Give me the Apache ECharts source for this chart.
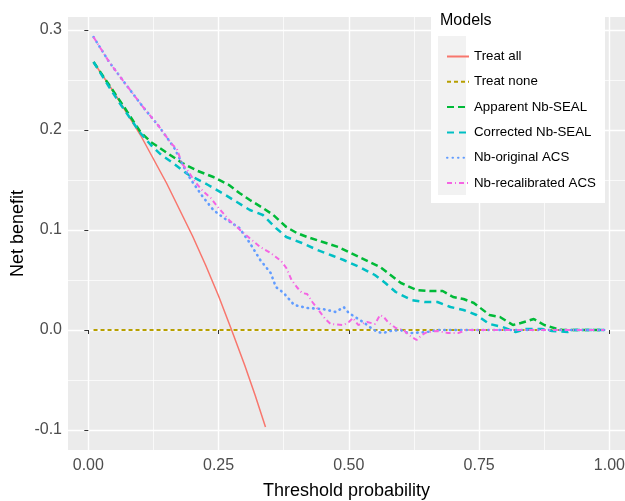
<!DOCTYPE html>
<html>
<head>
<meta charset="utf-8">
<script src="https://cdn.jsdelivr.net/npm/echarts@6/dist/echarts.min.js"></script>
<style>
  html, body { margin: 0; padding: 0; background: #fff; }
  #chart { width: 625px; height: 501px; }
</style>
</head>
<body>
<div id="chart"></div>
<script>
// tick positions
var xTicks = [0, 0.25, 0.5, 0.75, 1];
var xMinor = [0.125, 0.375, 0.625, 0.875];
var yTicks = [-0.1, 0, 0.1, 0.2, 0.3];
var yMinor = [-0.05, 0.05, 0.15, 0.25];

var modelNames = ['Treat all', 'Treat none', 'Apparent Nb-SEAL', 'Corrected Nb-SEAL', 'Nb-original ACS', 'Nb-recalibrated ACS'];

// [threshold, net benefit]
var treatAll = [[0.01, 0.268], [0.05, 0.237], [0.10, 0.195], [0.15, 0.147], [0.20, 0.094],
  [0.225, 0.065], [0.25, 0.034], [0.275, 0.0], [0.30, -0.035], [0.32, -0.065], [0.34, -0.097]];

var treatNone = [[0.01, 0], [0.99, 0]];

var apparentSeal = [[0.01, 0.268], [0.04, 0.245], [0.07, 0.222], [0.10, 0.198], [0.12, 0.188],
  [0.14, 0.181], [0.16, 0.174], [0.18, 0.167], [0.21, 0.159], [0.24, 0.153], [0.27, 0.145],
  [0.29, 0.137], [0.31, 0.130], [0.335, 0.122], [0.355, 0.115], [0.38, 0.103], [0.40, 0.097],
  [0.42, 0.093], [0.45, 0.088], [0.48, 0.083], [0.50, 0.078], [0.52, 0.073], [0.54, 0.068],
  [0.56, 0.063], [0.58, 0.055], [0.60, 0.047], [0.63, 0.040], [0.655, 0.039], [0.68, 0.039],
  [0.70, 0.033], [0.72, 0.031], [0.74, 0.027], [0.77, 0.015], [0.79, 0.013], [0.815, 0.005],
  [0.83, 0.007], [0.855, 0.011], [0.875, 0.005], [0.90, 0.001], [0.91, 0], [0.99, 0]];

var correctedSeal = [[0.01, 0.268], [0.04, 0.243], [0.06, 0.227], [0.08, 0.212], [0.10, 0.197],
  [0.12, 0.185], [0.14, 0.175], [0.16, 0.168], [0.19, 0.156], [0.23, 0.145], [0.26, 0.136],
  [0.285, 0.128], [0.31, 0.120], [0.335, 0.115], [0.36, 0.102], [0.38, 0.093], [0.41, 0.087],
  [0.44, 0.080], [0.47, 0.074], [0.49, 0.070], [0.52, 0.063], [0.55, 0.055], [0.57, 0.047],
  [0.59, 0.038], [0.62, 0.030], [0.645, 0.028], [0.67, 0.028], [0.695, 0.023], [0.72, 0.020],
  [0.745, 0.015], [0.77, 0.006], [0.795, 0.003], [0.82, -0.002], [0.84, 0.001], [0.87, 0.001],
  [0.89, -0.001], [0.92, -0.002], [0.93, 0], [0.99, 0]];

var originalAcs = [[0.01, 0.293], [0.04, 0.268], [0.07, 0.247], [0.105, 0.223], [0.135, 0.204],
  [0.165, 0.182], [0.19, 0.156], [0.20, 0.148], [0.22, 0.133], [0.24, 0.120], [0.26, 0.112],
  [0.29, 0.102], [0.31, 0.087], [0.33, 0.070], [0.35, 0.057], [0.36, 0.043], [0.375, 0.037],
  [0.395, 0.025], [0.42, 0.022], [0.45, 0.021], [0.475, 0.018], [0.49, 0.023], [0.50, 0.017],
  [0.515, 0.012], [0.53, 0.007], [0.54, 0.003], [0.555, -0.002], [0.565, -0.003], [0.58, -0.001],
  [0.60, 0], [0.605, -0.002], [0.62, -0.003], [0.65, -0.002], [0.67, 0], [0.99, 0]];

var recalibratedAcs = [[0.01, 0.293], [0.04, 0.268], [0.07, 0.247], [0.105, 0.223], [0.135, 0.204],
  [0.16, 0.186], [0.17, 0.181], [0.18, 0.166], [0.19, 0.160], [0.205, 0.148], [0.22, 0.139],
  [0.235, 0.132], [0.25, 0.122], [0.27, 0.110], [0.30, 0.096], [0.33, 0.083], [0.35, 0.077],
  [0.37, 0.069], [0.38, 0.062], [0.39, 0.050], [0.40, 0.043], [0.41, 0.037], [0.42, 0.036],
  [0.43, 0.028], [0.44, 0.021], [0.455, 0.011], [0.465, 0.006], [0.49, 0.005], [0.50, 0.008],
  [0.508, 0.012], [0.518, 0.005], [0.535, 0.008], [0.55, 0.006], [0.56, 0.015], [0.567, 0.013],
  [0.575, 0.008], [0.59, 0.002], [0.605, 0], [0.615, -0.005], [0.63, -0.010], [0.64, -0.005],
  [0.65, -0.002], [0.67, -0.001], [0.69, -0.003], [0.71, -0.003], [0.725, 0], [0.99, 0]];

var font = "'Liberation Sans', Arial, sans-serif";
var myChart = echarts.init(document.getElementById('chart'));

function lineSeries(name, data, color, width, dash, cap) {
  return {
    name: name,
    type: 'line',
    data: data,
    symbol: 'none',
    smooth: false,
    animation: false,
    lineStyle: { color: color, width: width, type: dash, cap: cap || 'butt' },
    itemStyle: { color: color }
  };
}

var option = {
  backgroundColor: '#fff',
  animation: false,
  textStyle: { fontFamily: font },
  grid: {
    left: 68, right: 0, top: 17, bottom: 51,
    outerBoundsMode: 'none',
    show: true, backgroundColor: '#EBEBEB', borderWidth: 0
  },
  xAxis: [
    {
      type: 'value', min: -0.039, max: 1.03,
      axisLine: { show: false },
      axisTick: { show: true, customValues: xTicks, length: 4, lineStyle: { color: '#333', width: 1 } },
      axisLabel: { customValues: xTicks, formatter: function (v) { return v.toFixed(2); },
        color: '#4D4D4D', fontSize: 16, margin: 8, fontFamily: font },
      splitLine: { show: true, lineStyle: { color: '#fff', width: 1.4 } },
      name: 'Threshold probability', nameLocation: 'middle', nameGap: 32,
      nameMoveOverlap: false,
      nameTextStyle: { color: '#000', fontSize: 18, fontFamily: font }
    },
    {
      type: 'value', min: -0.039, max: 1.03,
      axisLine: { show: false },
      axisTick: { show: false, customValues: xMinor },
      axisLabel: { show: false, customValues: xMinor },
      splitLine: { show: true, lineStyle: { color: '#fff', width: 0.7 } }
    }
  ],
  yAxis: [
    {
      type: 'value', min: -0.12, max: 0.313,
      axisLine: { show: false },
      axisTick: { show: true, customValues: yTicks, length: 4, lineStyle: { color: '#333', width: 1 } },
      axisLabel: { customValues: yTicks, formatter: function (v) { return v.toFixed(1); },
        color: '#4D4D4D', fontSize: 16, margin: 6, fontFamily: font },
      splitLine: { show: true, lineStyle: { color: '#fff', width: 1.4 } },
      name: 'Net benefit', nameLocation: 'middle', nameGap: 41,
      nameMoveOverlap: false,
      nameTextStyle: { color: '#000', fontSize: 18, fontFamily: font }
    },
    {
      type: 'value', min: -0.12, max: 0.313,
      axisLine: { show: false },
      axisTick: { show: false, customValues: yMinor },
      axisLabel: { show: false, customValues: yMinor },
      splitLine: { show: true, lineStyle: { color: '#fff', width: 0.7 } }
    }
  ],
  legend: {
    data: modelNames,
    orient: 'vertical',
    left: 441, top: 45,
    z: 10,
    itemWidth: 22, itemHeight: 14, itemGap: 12.3,
    itemStyle: { opacity: 0 },
    textStyle: { fontSize: 13.3, color: '#000', fontFamily: font },
    selectedMode: false
  },
  graphic: [
    { type: 'rect', z: 5, shape: { x: 431, y: 6, width: 174, height: 197 }, style: { fill: '#fff' } },
    { type: 'rect', z: 6, shape: { x: 438, y: 36, width: 28, height: 159 }, style: { fill: '#F2F2F2' } },
    { type: 'text', z: 10, x: 440, y: 21,
      style: { text: 'Models', fontSize: 16, fontFamily: font, fill: '#000', verticalAlign: 'middle' } }
  ],
  series: [
    lineSeries(modelNames[0], treatAll, '#F8766D', 1.5, 'solid'),
    lineSeries(modelNames[1], treatNone, '#B79F00', 2, [4, 3]),
    lineSeries(modelNames[2], apparentSeal, '#00BA38', 2.5, [7, 4]),
    lineSeries(modelNames[3], correctedSeal, '#00BFC4', 2.5, [7, 5]),
    lineSeries(modelNames[4], originalAcs, '#619CFF', 2.6, [0.5, 5], 'round'),
    lineSeries(modelNames[5], recalibratedAcs, '#F564E3', 2, [5, 3, 1, 3])
  ]
};

myChart.setOption(option);
window.addEventListener('resize', myChart.resize);
</script>
</body>
</html>
